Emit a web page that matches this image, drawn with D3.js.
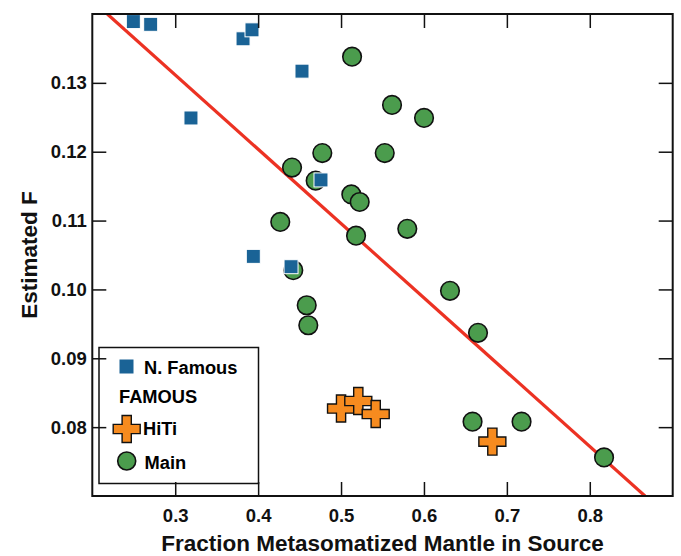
<!DOCTYPE html>
<html>
<head>
<meta charset="utf-8">
<script src="https://cdn.jsdelivr.net/npm/d3@7"></script>
<style>
  html, body { margin: 0; padding: 0; background: #fff; }
  svg { display: block; font-family: "Liberation Sans", Arial, Helvetica, sans-serif; font-weight: bold; }
</style>
</head>
<body>
<svg id="chart" width="681" height="556"></svg>
<script>
// N. Famous samples: [fraction metasomatized mantle, estimated F]
const nFamous = [
  [0.2495, 0.1389], [0.2704, 0.1385], [0.3818, 0.1364], [0.3926, 0.1377],
  [0.4529, 0.1317], [0.3190, 0.1249], [0.4758, 0.1159], [0.3942, 0.1048],
  [0.4397, 0.1033]
];
// FAMOUS HiTi samples
const famousHiTi = [
  [0.5000, 0.0827], [0.5208, 0.0838], [0.5418, 0.0819], [0.6825, 0.0779]
];
// FAMOUS Main samples
const famousMain = [
  [0.5133, 0.1338], [0.5615, 0.1268], [0.6001, 0.1249], [0.5527, 0.1198],
  [0.4774, 0.1198], [0.4409, 0.1177], [0.4694, 0.1158], [0.5124, 0.1138],
  [0.5225, 0.1127], [0.4267, 0.1098], [0.5181, 0.1078], [0.5799, 0.1088],
  [0.4424, 0.1028], [0.4586, 0.0977], [0.4605, 0.0948], [0.6314, 0.0998],
  [0.6652, 0.0937], [0.6586, 0.0808], [0.7177, 0.0808], [0.8172, 0.0756]
];
// Regression line endpoints
const trendLine = [[0.2181, 0.1400], [0.8666, 0.0700]];

const xTicks = [0.3, 0.4, 0.5, 0.6, 0.7, 0.8];
const yTicks = [0.08, 0.09, 0.10, 0.11, 0.12, 0.13];

const xTitle = "Fraction Metasomatized Mantle in Source";
const yTitle = "Estimated F";

const colors = { square: "#1a6396", cross: "#f68b1f", circle: "#4b9c4d", line: "#ec3223" };

const svg = d3.select("#chart");
const plotL = 92.3, plotR = 672.7, plotT = 14, plotB = 496;

const x = d3.scaleLinear().domain([0.2, 0.9]).range([plotL, plotR]);
const y = d3.scaleLinear().domain([0.07, 0.14]).range([plotB, plotT]);

svg.append("defs").append("clipPath").attr("id", "plot-clip")
  .append("rect").attr("x", plotL).attr("y", plotT)
  .attr("width", plotR - plotL).attr("height", plotB - plotT);

const plot = svg.append("g").attr("clip-path", "url(#plot-clip)");

// trend line
plot.append("path")
  .datum(trendLine)
  .attr("d", d3.line().x(d => x(d[0])).y(d => y(d[1])))
  .attr("fill", "none")
  .attr("stroke", colors.line)
  .attr("stroke-width", 3.2);

// marker shapes
const crossPath = (cx, cy, s, a) =>
  `M${cx - a},${cy - s}H${cx + a}V${cy - a}H${cx + s}V${cy + a}H${cx + a}V${cy + s}H${cx - a}V${cy + a}H${cx - s}V${cy - a}H${cx - a}Z`;

plot.selectAll("circle.main")
  .data(famousMain).join("circle")
  .attr("class", "main")
  .attr("cx", d => x(d[0])).attr("cy", d => y(d[1]))
  .attr("r", 9.3)
  .attr("fill", colors.circle).attr("stroke", "#111").attr("stroke-width", 1.6);

plot.selectAll("path.hiti")
  .data(famousHiTi).join("path")
  .attr("class", "hiti")
  .attr("d", d => crossPath(x(d[0]), y(d[1]), 13.5, 4.6))
  .attr("fill", colors.cross).attr("stroke", "#111").attr("stroke-width", 1.4)
  .attr("stroke-linejoin", "miter");

plot.selectAll("rect.nfam")
  .data(nFamous).join("rect")
  .attr("class", "nfam")
  .attr("x", d => x(d[0]) - 7).attr("y", d => y(d[1]) - 7)
  .attr("width", 14).attr("height", 14)
  .attr("fill", colors.square).attr("stroke", "#fff").attr("stroke-width", 1);

// legend
const lg = svg.append("g");
lg.append("rect").attr("x", 99).attr("y", 347.5).attr("width", 159.5).attr("height", 136)
  .attr("fill", "#fff").attr("stroke", "#111").attr("stroke-width", 1.5);
lg.append("rect").attr("x", 119.5).attr("y", 359.5).attr("width", 14).attr("height", 14)
  .attr("fill", colors.square);
lg.append("text").attr("x", 144).attr("y", 374).attr("font-size", 18.3).text("N. Famous");
lg.append("text").attr("x", 119).attr("y", 403).attr("font-size", 18.3).text("FAMOUS");
lg.append("path").attr("d", crossPath(126.7, 429, 13.5, 4.6))
  .attr("fill", colors.cross).attr("stroke", "#111").attr("stroke-width", 1.4);
lg.append("text").attr("x", 143).attr("y", 435).attr("font-size", 18.3).text("HiTi");
lg.append("circle").attr("cx", 126.7).attr("cy", 461).attr("r", 9)
  .attr("fill", colors.circle).attr("stroke", "#111").attr("stroke-width", 1.6);
lg.append("text").attr("x", 144.5).attr("y", 468.5).attr("font-size", 18.3).text("Main");

// axes with inward ticks on all four sides
const tickLen = 14;
function styleAxis(g) {
  g.select(".domain").remove();
  g.selectAll(".tick line").attr("stroke", "#111").attr("stroke-width", 1.5);
  g.selectAll(".tick text").attr("fill", "#111").attr("font-size", 18.5)
    .attr("font-family", "'Liberation Sans', Arial, sans-serif").attr("font-weight", "bold");
}
svg.append("g").attr("transform", `translate(0,${plotB})`)
  .call(d3.axisBottom(x).tickValues(xTicks).tickFormat(d3.format(".1f"))
    .tickSizeInner(-tickLen).tickSizeOuter(0).tickPadding(13))
  .call(styleAxis);
svg.append("g").attr("transform", `translate(0,${plotT})`)
  .call(d3.axisTop(x).tickValues(xTicks).tickFormat("")
    .tickSizeInner(-tickLen).tickSizeOuter(0))
  .call(styleAxis);
svg.append("g").attr("transform", `translate(${plotL},0)`)
  .call(d3.axisLeft(y).tickValues(yTicks).tickFormat(d3.format(".2f"))
    .tickSizeInner(-tickLen).tickSizeOuter(0).tickPadding(5.5))
  .call(styleAxis);
svg.append("g").attr("transform", `translate(${plotR},0)`)
  .call(d3.axisRight(y).tickValues(yTicks).tickFormat("")
    .tickSizeInner(-tickLen).tickSizeOuter(0))
  .call(styleAxis);

// frame
svg.append("rect").attr("x", plotL).attr("y", plotT)
  .attr("width", plotR - plotL).attr("height", plotB - plotT)
  .attr("fill", "none").attr("stroke", "#111").attr("stroke-width", 2);

// axis titles
svg.append("text").attr("x", (plotL + plotR) / 2).attr("y", 551)
  .attr("text-anchor", "middle").attr("font-size", 22.5).attr("fill", "#111").text(xTitle);
svg.append("text").attr("transform", `translate(37,${(plotT + plotB) / 2}) rotate(-90)`)
  .attr("text-anchor", "middle").attr("font-size", 22.5).attr("fill", "#111").text(yTitle);
</script>
</body>
</html>
